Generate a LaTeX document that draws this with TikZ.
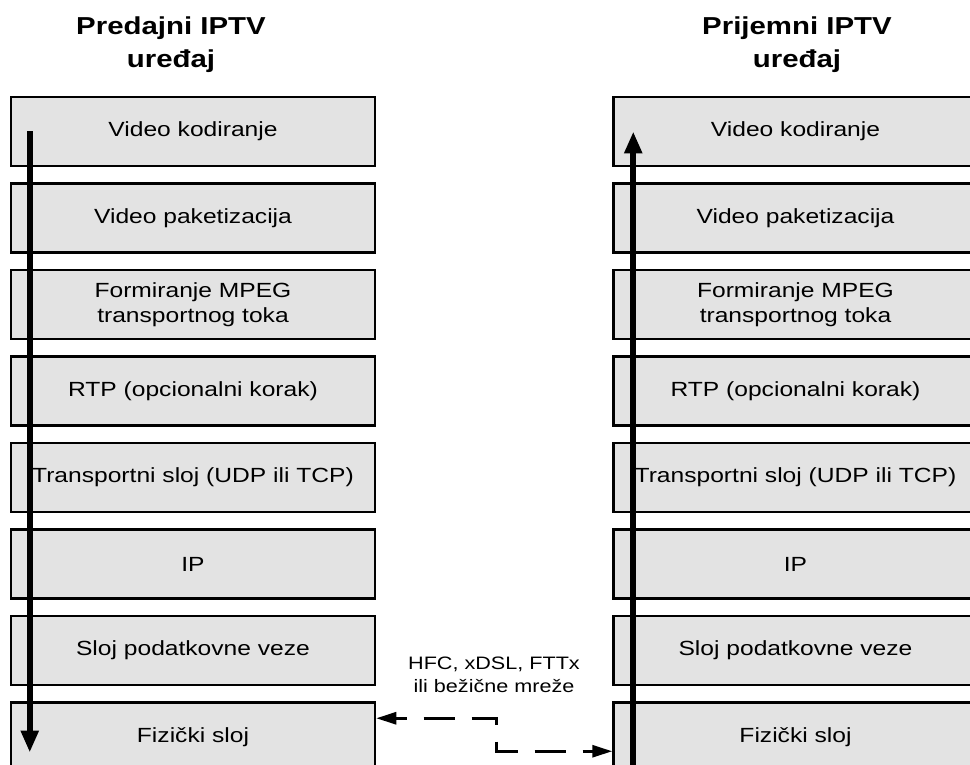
\documentclass[tikz,border=0pt]{standalone}
\usepackage{fontspec}
\setmainfont{Liberation Sans}[FakeStretch=1.2]
\usetikzlibrary{positioning,arrows.meta}
\definecolor{boxgray}{RGB}{227,227,227}

\begin{document}
\begin{tikzpicture}[x=1pt,y=-1pt,
    layer/.style={draw, line width=2.5pt, fill=boxgray, minimum width=364pt,
      minimum height=69pt, inner sep=0pt, align=center,
      font=\fontsize{20.5}{25}\selectfont},
    title/.style={align=center, font=\fontsize{24.5}{33}\selectfont\bfseries},
    flow/.style={line width=6pt, -{Triangle[width=17pt,length=22pt]}},
    link/.style={line width=3pt, dash pattern=on 31pt off 17pt, dash phase=20pt,
      {Triangle[width=12pt,length=20pt]}-{Triangle[width=12pt,length=20pt]}},
    node distance=15pt]
    \useasboundingbox (0,0) rectangle (970,765);
    \clip (0,0) rectangle (970,765);
    % predajni uredjaj
    \node[title]                   (ltitle) at (171,45) {Predajni IPTV\\uređaj};
    \node[layer]                   (lvid)   at (193,131.5) {Video kodiranje};
    \node[layer, below=of lvid]    (lpak)   {Video paketizacija};
    \node[layer, below=of lpak]    (lmpeg)  {Formiranje MPEG\\transportnog toka};
    \node[layer, below=of lmpeg]   (lrtp)   {RTP (opcionalni korak)};
    \node[layer, below=of lrtp]    (ltrans) {Transportni sloj (UDP ili TCP)};
    \node[layer, below=of ltrans]  (lip)    {IP};
    \node[layer, below=of lip]     (lveza)  {Sloj podatkovne veze};
    \node[layer, below=of lveza]   (lfiz)   {Fizički sloj};
    % prijemni uredjaj
    \node[title]                   (rtitle) at (797,45) {Prijemni IPTV\\uređaj};
    \node[layer, right=236pt of lvid] (rvid) {Video kodiranje};
    \node[layer, below=of rvid]    (rpak)   {Video paketizacija};
    \node[layer, below=of rpak]    (rmpeg)  {Formiranje MPEG\\transportnog toka};
    \node[layer, below=of rmpeg]   (rrtp)   {RTP (opcionalni korak)};
    \node[layer, below=of rrtp]    (rtrans) {Transportni sloj (UDP ili TCP)};
    \node[layer, below=of rtrans]  (rip)    {IP};
    \node[layer, below=of rip]     (rveza)  {Sloj podatkovne veze};
    \node[layer, below=of rveza]   (rfiz)   {Fizički sloj};
    % tok podataka
    \draw[flow] ([xshift=20pt]lvid.west) -- ([xshift=20pt,yshift=-15.5pt]lfiz.west);
    \draw[flow] ([xshift=21pt]rfiz.south west) -- ([xshift=21pt]rvid.west);
    \draw[link] ([yshift=-17pt]lfiz.north east) -- ++(120,0)
      |- ([yshift=-50pt]rfiz.north west);
    \node[align=center, font=\fontsize{18}{23}\selectfont] (medij) at (494,675)
      {HFC, xDSL, FTTx\\ili bežične mreže};
\end{tikzpicture}
\end{document}
